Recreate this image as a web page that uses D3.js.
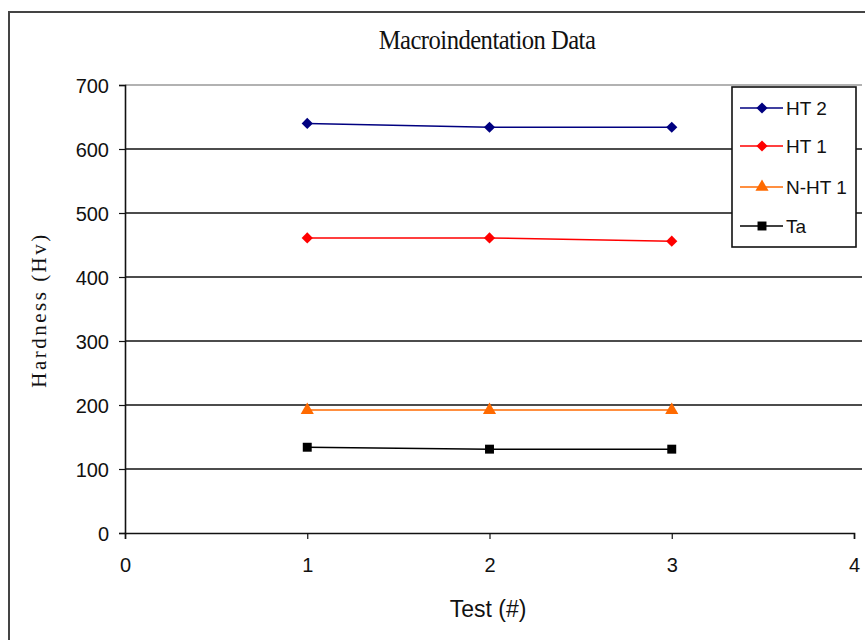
<!DOCTYPE html>
<html>
<head>
<meta charset="utf-8">
<script src="https://cdn.jsdelivr.net/npm/d3@7"></script>
<style>
  body { margin: 0; background: #fff; }
  svg { display: block; }
</style>
</head>
<body>
<svg id="chart" width="865" height="640"></svg>
<script>
const tests = [1, 2, 3];
const seriesNames = ['HT 2', 'HT 1', 'N-HT 1', 'Ta'];
const ht2 = [640, 634, 634];
const ht1 = [461, 461, 456];
const nht1 = [192, 192, 192];
const ta = [134, 131, 131];
const xTicks = [0, 1, 2, 3, 4];
const yTicks = [0, 100, 200, 300, 400, 500, 600, 700];

// small stand-in for d3-selection-multi
d3.selection.prototype.attrs = function (obj) {
  Object.keys(obj).forEach(k => this.attr(k, obj[k]));
  return this;
};

main();

function main () {
  const svg = d3.select('svg#chart');
  const left = 125, right = 854, top = 85, bottom = 533;
  const sans = '"Liberation Sans", Arial, sans-serif';
  const serif = '"Liberation Serif", "Times New Roman", serif';

  const x = d3.scaleLinear().domain([0, 4]).range([left, right]);
  const y = d3.scaleLinear().domain([0, 700]).range([bottom, top]);

  // outer chart frame
  svg.append('rect').attrs({
    x: 9, y: 12, width: 900, height: 700,
    fill: 'none', stroke: '#444', 'stroke-width': 2
  });

  // gridlines
  yTicks.slice(1).forEach(t => {
    svg.append('line').attrs({
      x1: left, x2: 862, y1: y(t), y2: y(t),
      stroke: t === 700 ? '#999' : '#111',
      'stroke-width': t === 700 ? 1.5 : 1.6
    });
  });

  // axes
  const yAxis = svg.append('g')
    .attr('transform', `translate(${left},0)`)
    .call(d3.axisLeft(y).tickValues(yTicks).tickSize(6).tickPadding(10));
  const xAxis = svg.append('g')
    .attr('transform', `translate(0,${bottom})`)
    .call(d3.axisBottom(x).tickValues(xTicks).tickFormat(d3.format('d')).tickSize(6).tickPadding(19));
  [yAxis, xAxis].forEach(a => {
    a.attrs({ 'font-size': 20, 'font-family': sans });
    a.select('.domain').attrs({ stroke: '#111', 'stroke-width': 1.6 });
    a.selectAll('.tick line').attrs({ stroke: '#111', 'stroke-width': 1.2 });
    a.selectAll('.tick text').attrs({ fill: '#111' });
  });
  yAxis.selectAll('.tick text').attr('dy', '0.35em');

  const series = [
    { name: seriesNames[0], values: ht2, color: '#000080', marker: 'diamond' },
    { name: seriesNames[1], values: ht1, color: '#ff0000', marker: 'diamond' },
    { name: seriesNames[2], values: nht1, color: '#ff6a00', marker: 'triangle' },
    { name: seriesNames[3], values: ta, color: '#000000', marker: 'square' },
  ];
  const symbols = {
    diamond: d3.symbol().type(d3.symbolDiamond2).size(80),
    triangle: d3.symbol().type(d3.symbolTriangle).size(75),
    square: d3.symbol().type(d3.symbolSquare).size(80),
  };

  const line = d3.line().x((d, i) => x(tests[i])).y(d => y(d));
  series.forEach(s => {
    svg.append('path').datum(s.values).attrs({
      d: line, fill: 'none', stroke: s.color, 'stroke-width': 1.5
    });
    s.values.forEach((v, i) => {
      svg.append('path').attrs({
        d: symbols[s.marker](),
        transform: `translate(${x(tests[i])},${y(v)})`,
        fill: s.color
      });
    });
  });

  // legend
  svg.append('rect').attrs({
    x: 732, y: 87, width: 124, height: 160,
    fill: '#fff', stroke: '#111', 'stroke-width': 1.6
  });
  const legendY = [108, 146, 187, 226];
  series.forEach((s, i) => {
    const ly = legendY[i];
    svg.append('line').attrs({
      x1: 740, x2: 783, y1: ly, y2: ly, stroke: s.color, 'stroke-width': 1.5
    });
    svg.append('path').attrs({
      d: symbols[s.marker](),
      transform: `translate(762,${ly})`,
      fill: s.color
    });
    svg.append('text').text(s.name).attrs({
      x: 786, y: ly, dy: '0.35em', fill: '#111',
      'font-family': sans, 'font-size': 19
    });
  });

  // title and axis labels
  svg.append('text').text('Macroindentation Data').attrs({
    transform: 'translate(487,49) scale(0.88,1)', 'text-anchor': 'middle', fill: '#111',
    'font-family': serif, 'font-size': 28, 'letter-spacing': '-0.6px'
  });

  svg.append('text').text('Hardness (Hv)').attrs({
    transform: 'translate(46,310) rotate(-90)', 'text-anchor': 'middle', fill: '#111',
    'font-family': serif, 'font-size': 21, 'letter-spacing': '2.5px'
  });

  svg.append('text').text('Test (#)').attrs({
    x: 488, y: 617, 'text-anchor': 'middle', fill: '#111',
    'font-family': sans, 'font-size': 23
  });
}
</script>
</body>
</html>
